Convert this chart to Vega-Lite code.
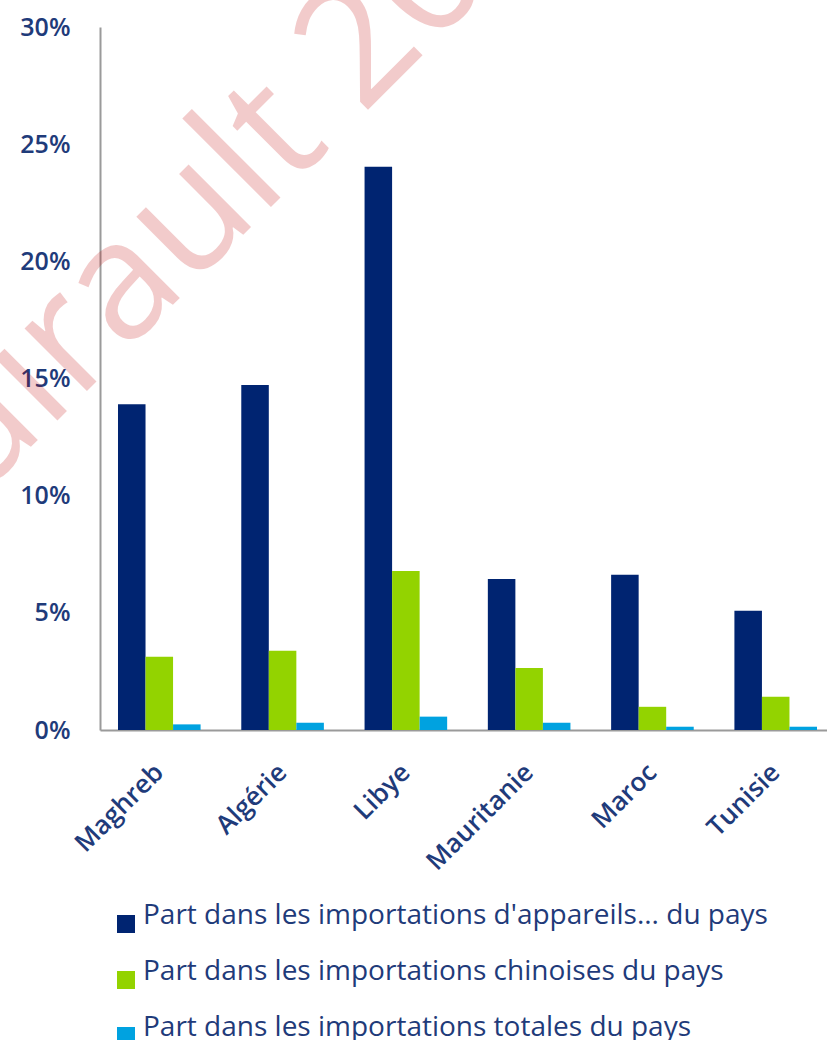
{
  "$schema": "https://vega.github.io/schema/vega-lite/v6.json",
  "width": 727,
  "height": 703,
  "autosize": {"type": "none"},
  "padding": {"left": 100, "top": 27, "right": 0, "bottom": 310},
  "background": "white",
  "config": {"view": {"stroke": null}, "font": "Open Sans"},
  "datasets": {
    "bars": [
      {"pays": "Maghreb", "serie": "Part dans les importations d'appareils... du pays", "valeur": 13.9},
      {"pays": "Maghreb", "serie": "Part dans les importations chinoises du pays", "valeur": 3.13},
      {"pays": "Maghreb", "serie": "Part dans les importations totales du pays", "valeur": 0.24},
      {"pays": "Algérie", "serie": "Part dans les importations d'appareils... du pays", "valeur": 14.72},
      {"pays": "Algérie", "serie": "Part dans les importations chinoises du pays", "valeur": 3.38},
      {"pays": "Algérie", "serie": "Part dans les importations totales du pays", "valeur": 0.31},
      {"pays": "Libye", "serie": "Part dans les importations d'appareils... du pays", "valeur": 24.04},
      {"pays": "Libye", "serie": "Part dans les importations chinoises du pays", "valeur": 6.79},
      {"pays": "Libye", "serie": "Part dans les importations totales du pays", "valeur": 0.57},
      {"pays": "Mauritanie", "serie": "Part dans les importations d'appareils... du pays", "valeur": 6.44},
      {"pays": "Mauritanie", "serie": "Part dans les importations chinoises du pays", "valeur": 2.65},
      {"pays": "Mauritanie", "serie": "Part dans les importations totales du pays", "valeur": 0.31},
      {"pays": "Maroc", "serie": "Part dans les importations d'appareils... du pays", "valeur": 6.62},
      {"pays": "Maroc", "serie": "Part dans les importations chinoises du pays", "valeur": 0.99},
      {"pays": "Maroc", "serie": "Part dans les importations totales du pays", "valeur": 0.14},
      {"pays": "Tunisie", "serie": "Part dans les importations d'appareils... du pays", "valeur": 5.09},
      {"pays": "Tunisie", "serie": "Part dans les importations chinoises du pays", "valeur": 1.42},
      {"pays": "Tunisie", "serie": "Part dans les importations totales du pays", "valeur": 0.14}
    ],
    "filigrane": [
      {"texte": "Pairault 2017", "pos": -0.258, "niveau": 7.02}
    ]
  },
  "layer": [
    {
      "data": {"name": "bars"},
      "mark": {"type": "bar"},
      "encoding": {
        "x": {
          "field": "pays",
          "type": "nominal",
          "sort": ["Maghreb", "Algérie", "Libye", "Mauritanie", "Maroc", "Tunisie"],
          "scale": {"paddingInner": 0.33, "paddingOuter": 0.1135, "align": 0.643},
          "axis": {
            "title": null,
            "labelAngle": -45,
            "labelAlign": "right",
            "labelBaseline": "middle",
            "labelPadding": 38,
            "labelFontSize": 26,
            "labelFontWeight": 600,
            "labelColor": "#1F3B7A",
            "labelFont": "Open Sans",
            "ticks": false,
            "domainColor": "#9A9A9A",
            "domainWidth": 2,
            "grid": false
          }
        },
        "xOffset": {
          "field": "serie",
          "type": "nominal",
          "sort": ["Part dans les importations d'appareils... du pays", "Part dans les importations chinoises du pays", "Part dans les importations totales du pays"],
          "scale": {"paddingInner": 0, "paddingOuter": 0}
        },
        "y": {
          "field": "valeur",
          "type": "quantitative",
          "scale": {"domain": [0, 30], "nice": false},
          "axis": {
            "title": null,
            "values": [0, 5, 10, 15, 20, 25, 30],
            "labelExpr": "datum.value + '%'",
            "labelFontSize": 25,
            "labelFontWeight": 600,
            "labelColor": "#1F3B7A",
            "labelFont": "Open Sans",
            "labelPadding": 30,
            "ticks": false,
            "grid": false,
            "domainColor": "#9A9A9A",
            "domainWidth": 2
          }
        },
        "color": {
          "field": "serie",
          "type": "nominal",
          "sort": ["Part dans les importations d'appareils... du pays", "Part dans les importations chinoises du pays", "Part dans les importations totales du pays"],
          "scale": {"range": ["#002471", "#93D300", "#00A2E0"]},
          "legend": {
            "title": null,
            "orient": "none",
            "legendX": 12,
            "legendY": 883,
            "direction": "vertical",
            "symbolType": "square",
            "symbolSize": 324,
            "symbolStrokeWidth": 0,
            "labelFontSize": 28,
            "labelFont": "Open Sans",
            "labelColor": "#1F3B7A",
            "labelBaseline": "alphabetic",
            "labelOffset": 3,
            "labelLimit": 0,
            "rowPadding": 25,
            "padding": 0
          }
        }
      }
    },
    {
      "data": {"name": "filigrane"},
      "mark": {"type": "text", "angle": -45, "align": "left", "baseline": "alphabetic", "fontSize": 165, "font": "Open Sans", "color": "#C00000", "opacity": 0.2},
      "encoding": {
        "text": {"field": "texte"},
        "x": {"field": "pos", "type": "quantitative", "scale": {"domain": [0, 1], "nice": false, "zero": false}, "axis": null},
        "y": {"field": "niveau", "type": "quantitative"}
      }
    }
  ],
  "resolve": {"scale": {"x": "independent"}, "axis": {"x": "independent"}}
}
